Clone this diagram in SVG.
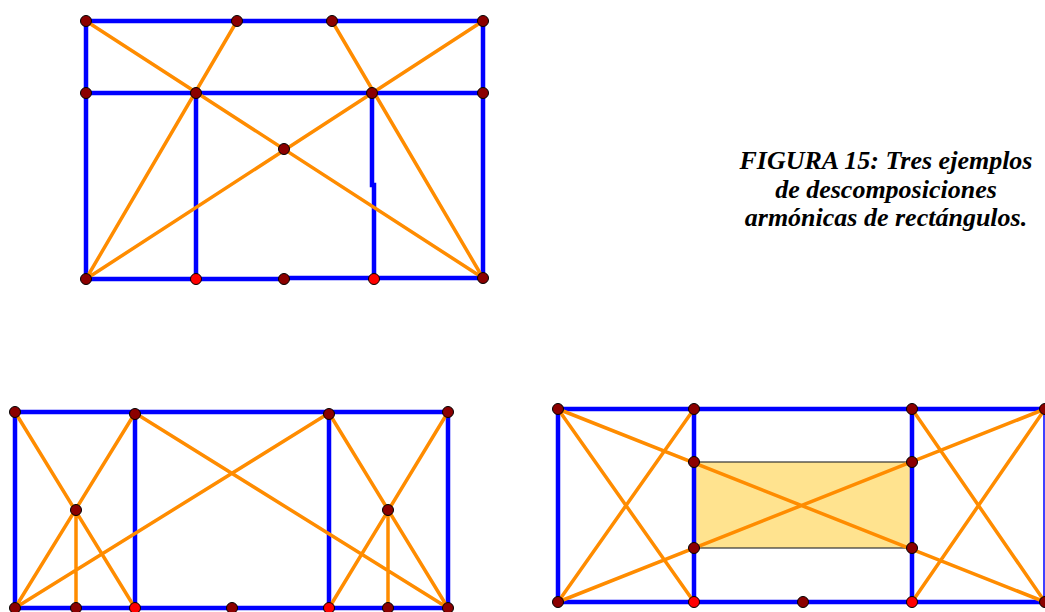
<svg xmlns="http://www.w3.org/2000/svg" width="1045" height="612" viewBox="0 0 1045 612">
<style>
.b{stroke:#0000ff;stroke-width:4.5;fill:none;stroke-linecap:square}
.o{stroke:#ff8c00;stroke-width:3.5;fill:none}
.p{fill:#8b0000;stroke:#000;stroke-width:1}
.r{fill:#ff0000;stroke:#000;stroke-width:1}
.cap{font-family:"Liberation Serif",serif;font-weight:bold;font-style:italic;font-size:26px;fill:#000;text-anchor:middle}
</style>
<rect width="1045" height="612" fill="#fff"/>
<g id="fig1">
<g id="fig1-connectors">
<path class="b" d="M86,21H483V278M86,21V279H284V278H483M86,93H483M196,93V279M372,93V185M374,185V278"/>
<path class="o" d="M86,21L483,278M483,21L86,279M237,21L86,279M332,21L483,278"/>
</g>
<g id="fig1-points">
<circle class="p" cx="86" cy="21" r="5.5"/><circle class="p" cx="237" cy="21" r="5.5"/><circle class="p" cx="332" cy="21" r="5.5"/><circle class="p" cx="483" cy="21" r="5.5"/>
<circle class="p" cx="86" cy="93" r="5.5"/><circle class="p" cx="196" cy="93" r="5.5"/><circle class="p" cx="372" cy="93" r="5.5"/><circle class="p" cx="483" cy="93" r="5.5"/>
<circle class="p" cx="284" cy="149" r="5.5"/>
<circle class="p" cx="86" cy="279" r="5.5"/><circle class="r" cx="196" cy="279" r="5.5"/><circle class="p" cx="284" cy="279" r="5.5"/><circle class="r" cx="374" cy="279" r="5.5"/><circle class="p" cx="483" cy="278" r="5.5"/>
</g>
</g>
<g id="fig2">
<g id="fig2-connectors">
<path class="b" d="M15,412H448V608H15ZM135,413V608M329,413V608"/>
<path class="o" d="M15,412L135,608M135,413L15,608M76,510V608M135,413L448,608M329,413L15,608M329,413L448,608M448,412L329,608M388,510V608"/>
</g>
<g id="fig2-points">
<circle class="p" cx="15" cy="412" r="5.5"/><circle class="p" cx="135" cy="414" r="5.5"/><circle class="p" cx="329" cy="414" r="5.5"/><circle class="p" cx="448" cy="412" r="5.5"/>
<circle class="p" cx="76" cy="510" r="5.5"/><circle class="p" cx="388" cy="510" r="5.5"/>
<circle class="p" cx="15" cy="608" r="5.5"/><circle class="p" cx="76" cy="608" r="5.5"/><circle class="r" cx="135" cy="608" r="5.5"/><circle class="p" cx="232" cy="608" r="5.5"/><circle class="r" cx="329" cy="608" r="5.5"/><circle class="p" cx="388" cy="608" r="5.5"/><circle class="p" cx="448" cy="608" r="5.5"/>
</g>
</g>
<g id="fig3">
<rect id="fig3-inner" x="694" y="462" width="218" height="86" fill="#ffe38f" stroke="#333" stroke-width="1.2"/>
<g id="fig3-connectors">
<path class="b" d="M558,409H1047M558,409V602H1047M694,409V602M912,409V602"/>
<path class="b" d="M1044,409V602" style="stroke-width:1.5"/>
<path class="o" d="M558,409L694,602M694,409L558,602M558,409L1045,602M558,602L1045,409M912,409L1045,602M1045,409L912,602"/>
</g>
<g id="fig3-points">
<circle class="p" cx="558" cy="409" r="5.5"/><circle class="p" cx="694" cy="409" r="5.5"/><circle class="p" cx="912" cy="409" r="5.5"/><circle class="p" cx="1045" cy="409" r="5.5"/>
<circle class="p" cx="694" cy="462" r="5.5"/><circle class="p" cx="912" cy="462" r="5.5"/><circle class="p" cx="694" cy="548" r="5.5"/><circle class="p" cx="912" cy="548" r="5.5"/>
<circle class="p" cx="558" cy="602" r="5.5"/><circle class="r" cx="694" cy="602" r="5.5"/><circle class="p" cx="803" cy="602" r="5.5"/><circle class="r" cx="912" cy="602" r="5.5"/><circle class="p" cx="1045" cy="602" r="5.5"/>
</g>
</g>
<g id="caption">
<text class="cap" x="886" y="169">FIGURA 15: Tres ejemplos</text>
<text class="cap" x="886" y="197.5">de descomposiciones</text>
<text class="cap" x="886" y="226">armónicas de rectángulos.</text>
</g>
</svg>
